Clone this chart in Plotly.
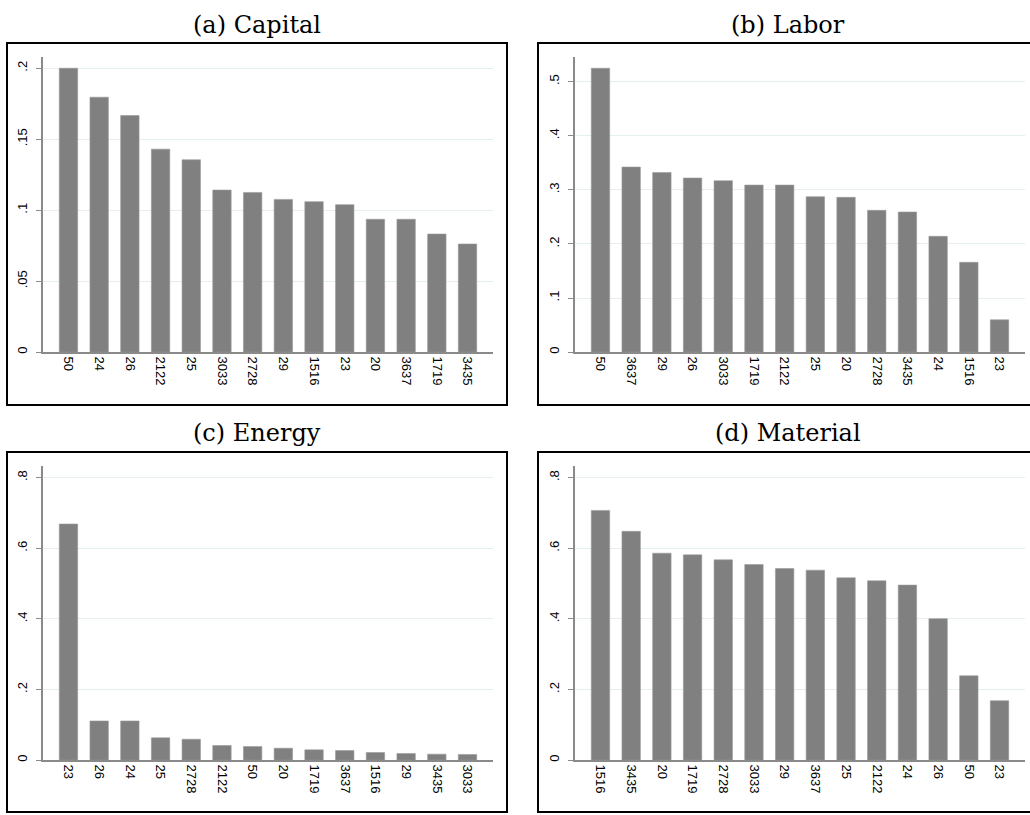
import plotly.graph_objects as go

# Industry codes and shares for each input, sorted from largest to smallest
capital_codes = ["50", "24", "26", "2122", "25", "3033", "2728", "29", "1516", "23", "20", "3637", "1719", "3435"]
capital_vals = [0.200, 0.1796, 0.1667, 0.1430, 0.1355, 0.1142, 0.1125, 0.1076, 0.1060, 0.1039, 0.0936, 0.0936, 0.0832, 0.0762]

labor_codes = ["50", "3637", "29", "26", "3033", "1719", "2122", "25", "20", "2728", "3435", "24", "1516", "23"]
labor_vals = [0.5246, 0.342, 0.332, 0.3217, 0.3167, 0.3087, 0.3087, 0.2872, 0.286, 0.262, 0.259, 0.214, 0.166, 0.0597]

energy_codes = ["23", "26", "24", "25", "2728", "2122", "50", "20", "1719", "3637", "1516", "29", "3435", "3033"]
energy_vals = [0.6684, 0.1109, 0.1109, 0.063, 0.0592, 0.0414, 0.0385, 0.0338, 0.0291, 0.0273, 0.0216, 0.0188, 0.0169, 0.016]

material_codes = ["1516", "3435", "20", "1719", "2728", "3033", "29", "3637", "25", "2122", "24", "26", "50", "23"]
material_vals = [0.7069, 0.6477, 0.5857, 0.581, 0.5669, 0.5537, 0.5424, 0.5377, 0.5161, 0.5076, 0.4954, 0.4005, 0.2388, 0.1683]

titles = ["(a) Capital", "(b) Labor", "(c) Energy", "(d) Material"]

ytick_a = [0, 0.05, 0.1, 0.15, 0.2]
ytick_a_text = ["0", ".05", ".1", ".15", ".2"]
ytick_b = [0, 0.1, 0.2, 0.3, 0.4, 0.5]
ytick_b_text = ["0", ".1", ".2", ".3", ".4", ".5"]
ytick_cd = [0, 0.2, 0.4, 0.6, 0.8]
ytick_cd_text = ["0", ".2", ".4", ".6", ".8"]

W, H = 1030, 815

# Pixel geometry of each panel: plot area (left, right, top, bottom) and framing box
panels = [
    dict(codes=capital_codes, vals=capital_vals, ticks=ytick_a, ticktext=ytick_a_text, ymax=0.208,
         plot=(43, 493, 57, 353), box=(7, 507, 43, 406), title_y=25),
    dict(codes=labor_codes, vals=labor_vals, ticks=ytick_b, ticktext=ytick_b_text, ymax=0.5456,
         plot=(575, 1025, 57, 353), box=(538, 1038, 43, 406), title_y=25),
    dict(codes=energy_codes, vals=energy_vals, ticks=ytick_cd, ticktext=ytick_cd_text, ymax=0.833,
         plot=(43, 493, 467, 762), box=(7, 507, 453, 814), title_y=434),
    dict(codes=material_codes, vals=material_vals, ticks=ytick_cd, ticktext=ytick_cd_text, ymax=0.833,
         plot=(575, 1025, 467, 762), box=(538, 1038, 453, 814), title_y=434),
]

AXIS_GREY = "#8a8a8a"
GRID = "#e6eff0"
BAR = "#808080"
TICK_FONT = dict(family="Liberation Sans, Arial, sans-serif", size=13, color="black")

fig = go.Figure()
shapes = []
annotations = []

for i, p in enumerate(panels, start=1):
    xa = "x" if i == 1 else f"x{i}"
    ya = "y" if i == 1 else f"y{i}"
    fig.add_trace(go.Bar(
        x=p["codes"], y=p["vals"], xaxis=xa, yaxis=ya,
        width=0.6, marker=dict(color=BAR, line=dict(color="#9a9a9a", width=0.6)),
        showlegend=False, hoverinfo="x+y",
    ))
    l, r, t, b = p["plot"]
    key_x = "xaxis" if i == 1 else f"xaxis{i}"
    key_y = "yaxis" if i == 1 else f"yaxis{i}"
    fig.layout[key_x] = dict(
        domain=[l / W, r / W], anchor=ya, type="category",
        range=[-0.83, len(p["codes"]) - 1 + 0.83],
        showline=True, linecolor=AXIS_GREY, linewidth=1.5,
        showgrid=False, zeroline=False, ticks="", tickangle=90,
        tickfont=TICK_FONT, fixedrange=True,
    )
    fig.layout[key_y] = dict(
        domain=[1 - b / H, 1 - t / H], anchor=xa,
        range=[0, p["ymax"]], tickmode="array", tickvals=p["ticks"], ticktext=p["ticktext"],
        showline=True, linecolor=AXIS_GREY, linewidth=1.5,
        ticks="outside", ticklen=5, tickcolor=AXIS_GREY, tickwidth=1.2,
        showgrid=True, gridcolor=GRID, gridwidth=1, zeroline=False,
        tickangle=-90, ticklabelstandoff=4,
        tickfont=TICK_FONT, fixedrange=True,
    )
    bl, br, bt, bb = p["box"]
    shapes.append(dict(type="rect", xref="paper", yref="paper",
                       x0=bl / W, x1=br / W, y0=1 - bb / H, y1=1 - bt / H,
                       line=dict(color="black", width=2), fillcolor="rgba(0,0,0,0)", layer="above"))
    annotations.append(dict(text=titles[i - 1], xref="paper", yref="paper",
                            x=(bl + br) / 2 / W, y=1 - p["title_y"] / H,
                            xanchor="center", yanchor="middle", showarrow=False,
                            font=dict(family="DejaVu Serif, Liberation Serif, serif", size=24, color="black")))

fig.update_layout(
    width=W, height=H, margin=dict(l=0, r=0, t=0, b=0),
    paper_bgcolor="white", plot_bgcolor="white",
    shapes=shapes, annotations=annotations, bargap=0.4,
)

fig.write_html("out.html")
